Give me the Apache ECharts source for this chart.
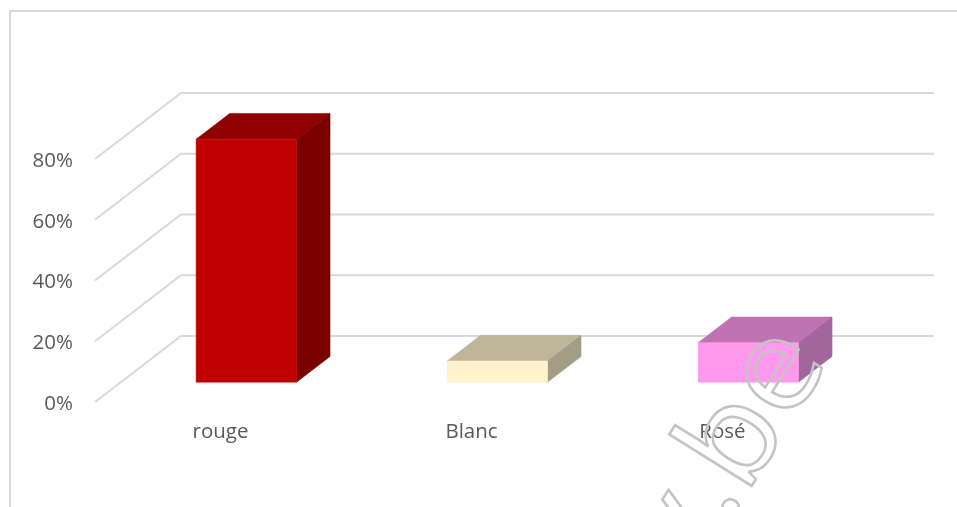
<!DOCTYPE html>
<html>
<head>
<meta charset="utf-8">
<style>html,body{margin:0;padding:0;background:#fff}#chart{width:957px;height:507px}</style>
<script src="https://cdn.jsdelivr.net/npm/echarts@6/dist/echarts.min.js"></script>
</head>
<body>
<div id="chart"></div>
<script>
// Wine share by colour, as 3D-style columns on a floor with a back wall
const categories = ['rouge', 'Blanc', 'Rosé'];
const shares = [80, 7, 13];
const axisTicks = [0, 20, 40, 60, 80];
const frontColours = ['#c00000', '#fff2cc', '#ff99ee'];
const topColours = ['#900000', '#bfb599', '#bf73b3'];
const sideColours = ['#7a0000', '#a39d86', '#a2659c'];

// Oblique projection: how far the back wall sits from the front plane, in pixels
const DEPTH_X = 86, DEPTH_Y = 66;
const BAR_WIDTH = 0.4, BAR_FRONT = 0.3, BAR_BACK = 0.69;
const GRID_COLOUR = '#d9d9d9';
const TEXT_FONT = '"Open Sans", sans-serif';

const shift = (p, d) => [p[0] + DEPTH_X * d, p[1] - DEPTH_Y * d];

function renderGridline(params, api) {
  const v = api.value(0);
  const band = api.size([1, 0])[0];
  const a = api.coord([0, v]);
  const b = api.coord([categories.length - 1, v]);
  const left = [a[0] - band / 2, a[1]];
  const right = [b[0] + band / 2, b[1]];
  return {
    type: 'polyline',
    shape: { points: [left, shift(left, 1), shift(right, 1)] },
    style: { fill: 'none', stroke: GRID_COLOUR, lineWidth: 2 }
  };
}

function renderColumn(params, api) {
  const i = api.value(0);
  const band = api.size([1, 0])[0];
  const half = band * BAR_WIDTH / 2;
  const base = api.coord([i, 0]);
  const head = api.coord([i, api.value(1)]);
  const fl = shift([base[0] - half, base[1]], BAR_FRONT);
  const fr = shift([base[0] + half, base[1]], BAR_FRONT);
  const tl = shift([head[0] - half, head[1]], BAR_FRONT);
  const tr = shift([head[0] + half, head[1]], BAR_FRONT);
  const d = BAR_BACK - BAR_FRONT;
  const poly = (points, fill) => ({
    type: 'polygon',
    shape: { points },
    style: { fill, stroke: fill, lineWidth: 0.5 }
  });
  return {
    type: 'group',
    children: [
      poly([tl, tr, shift(tr, d), shift(tl, d)], topColours[i]),
      poly([fr, tr, shift(tr, d), shift(fr, d)], sideColours[i]),
      poly([fl, fr, tr, tl], frontColours[i])
    ]
  };
}

const chart = echarts.init(document.getElementById('chart'), null, { renderer: 'canvas' });
chart.setOption({
  animation: false,
  backgroundColor: '#ffffff',
  grid: { left: 95, right: 109, top: 159, bottom: 105 },
  xAxis: {
    type: 'category',
    data: categories,
    axisLine: { show: false },
    axisTick: { show: false },
    axisLabel: { color: '#595959', fontFamily: TEXT_FONT, fontSize: 20.5, margin: 20 }
  },
  yAxis: {
    type: 'value',
    min: 0,
    max: 80,
    interval: 20,
    axisLine: { show: false },
    axisTick: { show: false },
    splitLine: { show: false },
    axisLabel: {
      color: '#595959',
      fontFamily: TEXT_FONT,
      fontSize: 20.5,
      margin: 22,
      verticalAlign: 'top',
      lineHeight: 4,
      formatter: '{value}%'
    }
  },
  series: [
    {
      type: 'custom',
      coordinateSystem: 'cartesian2d',
      renderItem: renderGridline,
      encode: { x: -1, y: 0 },
      silent: true,
      clip: false,
      data: axisTicks.map(t => [t])
    },
    {
      type: 'custom',
      coordinateSystem: 'cartesian2d',
      renderItem: renderColumn,
      encode: { x: 0, y: 1 },
      silent: true,
      clip: false,
      data: shares.map((s, i) => [i, s])
    }
  ],
  graphic: [
    {
      type: 'polyline',
      silent: true,
      z: 50,
      shape: { points: [[10, 507], [10, 11], [957, 11]] },
      style: { fill: 'none', stroke: GRID_COLOUR, lineWidth: 2 }
    },
    {
      // Diagonal outlined site mark across the lower right
      type: 'text',
      silent: true,
      z: 100,
      x: 714,
      y: 598,
      rotation: 58 * Math.PI / 180,
      scaleX: 1.06,
      style: {
        text: 'v.be',
        font: '400 128px "Open Sans", sans-serif',
        align: 'left',
        verticalAlign: 'bottom',
        fill: 'transparent',
        stroke: '#c4c4c4',
        lineWidth: 2.5
      }
    }
  ]
});
</script>
</body>
</html>
